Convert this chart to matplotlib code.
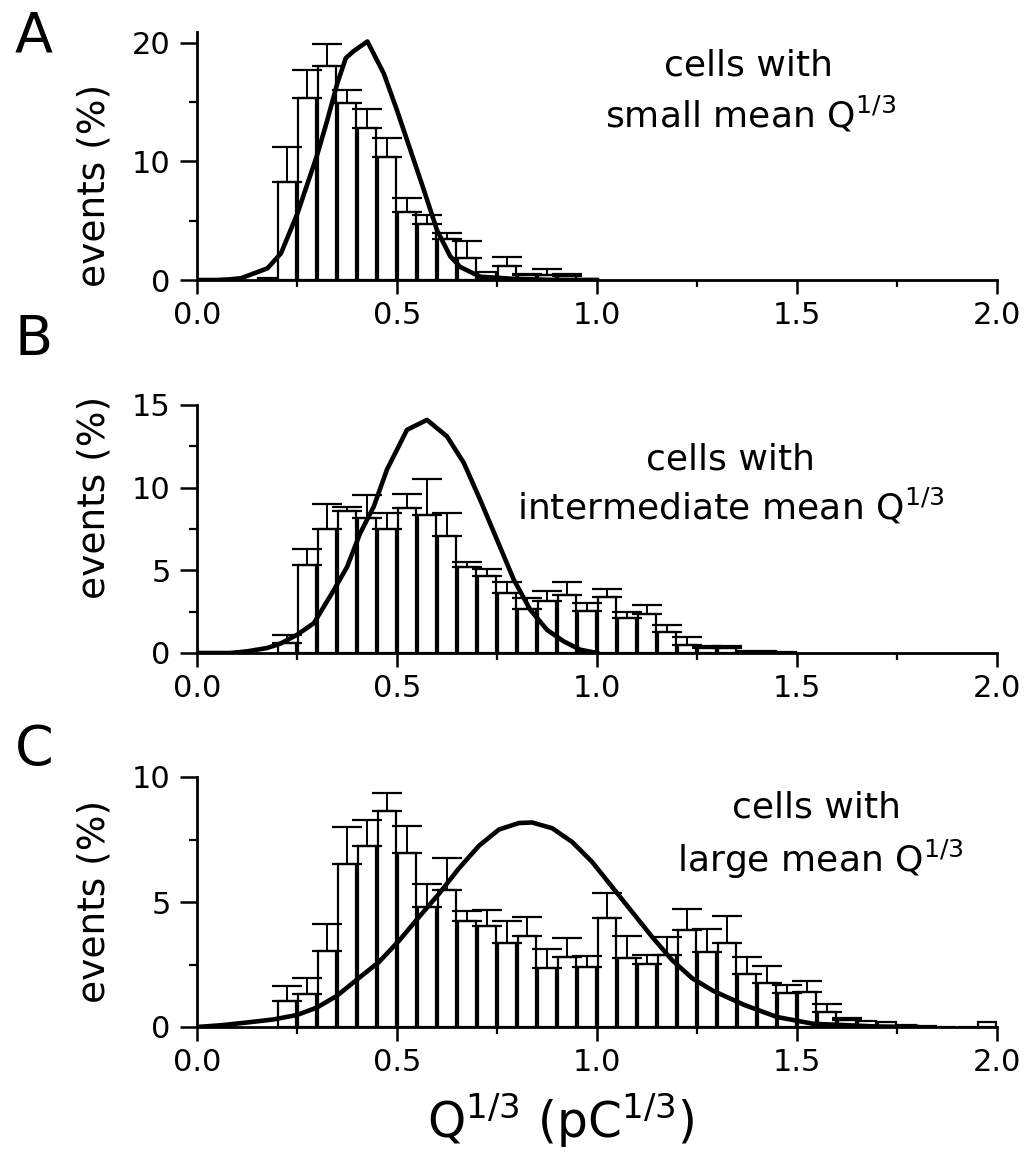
import numpy as np
import matplotlib
matplotlib.use("Agg")
import matplotlib.pyplot as plt
from matplotlib.ticker import MultipleLocator

# -----------------------------
# Data
# -----------------------------
BIN = 0.05

# panel A: cells with small mean Q^1/3
a_start = 0.15
a_height = [0.2, 8.3, 15.35, 18.0, 14.9, 12.8, 10.4, 5.7, 4.7, 3.45, 1.83,
            0.7, 1.2, 0.4, 0.4, 0.34, 0.1]
a_top = [0.2, 11.2, 17.7, 19.85, 16.05, 14.4, 12.0, 6.9, 5.5, 4.0, 3.3,
         0.7, 1.9, 0.5, 0.9, 0.5, 0.1]
a_curve_x = [0.0, 0.05, 0.08, 0.11, 0.176, 0.21, 0.251, 0.30, 0.326, 0.351,
             0.372, 0.392, 0.426, 0.467, 0.50, 0.525, 0.567, 0.60, 0.633,
             0.658, 0.708, 0.79, 0.9, 1.0]
a_curve_y = [0.0, 0.0, 0.05, 0.15, 0.98, 2.25, 5.6, 10.5, 13.5, 16.6,
             18.7, 19.3, 20.1, 17.4, 14.3, 11.8, 7.6, 4.2, 2.0,
             1.1, 0.28, 0.1, 0.0, 0.0]

# panel B: intermediate mean
b_start = 0.2
b_height = [0.6, 5.33, 7.5, 8.56, 8.15, 7.5, 8.76, 8.36, 7.05, 5.23, 4.67,
            3.62, 2.66, 3.12, 3.52, 2.55, 3.38, 2.1, 2.37, 1.3, 0.5, 0.3,
            0.3, 0.1, 0.1, 0.05]
b_top = [1.1, 6.3, 9.0, 8.86, 9.56, 8.46, 9.62, 10.5, 8.46, 5.5, 5.07,
         4.27, 3.3, 3.72, 4.29, 3.0, 3.88, 2.5, 2.88, 1.7, 0.97, 0.4,
         0.42, 0.1, 0.1, 0.05]
b_curve_x = [0.0, 0.083, 0.125, 0.175, 0.208, 0.25, 0.292, 0.342, 0.375,
             0.408, 0.442, 0.475, 0.525, 0.575, 0.625, 0.667, 0.708, 0.75,
             0.792, 0.833, 0.875, 0.917, 0.958, 1.0]
b_curve_y = [0.0, 0.0, 0.1, 0.3, 0.56, 1.1, 1.8, 3.8, 5.2, 7.25, 8.86,
             11.1, 13.5, 14.1, 13.1, 11.5, 9.26, 6.85, 4.43, 2.62, 1.4,
             0.7, 0.2, 0.0]

# panel C: large mean
c_start = 0.2
c_height = [1.04, 1.33, 3.04, 6.53, 7.24, 8.63, 6.97, 4.8, 5.5, 4.24, 4.03,
            3.38, 3.63, 2.35, 2.8, 2.4, 4.37, 2.77, 2.53, 2.88, 3.88, 3.0,
            3.37, 2.13, 1.76, 1.37, 1.4, 0.6, 0.27, 0.24, 0.2, 0.1, 0.05,
            0.0, 0.0, 0.2]
c_top = [1.63, 1.96, 4.13, 8.0, 8.27, 9.36, 8.03, 5.72, 6.77, 4.65, 4.67,
         4.24, 4.42, 3.12, 3.56, 2.85, 5.35, 3.63, 2.9, 3.62, 4.73, 3.93,
         4.43, 2.8, 2.44, 1.67, 1.84, 0.93, 0.37, 0.24, 0.2, 0.1, 0.05,
         0.0, 0.0, 0.2]
c_curve_x = [0.0, 0.06, 0.125, 0.19, 0.25, 0.3, 0.35, 0.4, 0.455, 0.505,
             0.555, 0.605, 0.655, 0.705, 0.755, 0.805, 0.838, 0.888, 0.938,
             0.988, 1.038, 1.088, 1.138, 1.188, 1.238, 1.29, 1.37, 1.45,
             1.54, 1.7, 1.8]
c_curve_y = [0.0, 0.07, 0.18, 0.3, 0.48, 0.78, 1.25, 1.9, 2.6, 3.45,
             4.4, 5.33, 6.35, 7.25, 7.9, 8.16, 8.18, 7.95, 7.4,
             6.6, 5.6, 4.6, 3.6, 2.67, 1.95, 1.45, 0.87, 0.4,
             0.13, 0.02, 0.0]

panel_letters = ["A", "B", "C"]
line1 = ["cells with", "cells with", "cells with"]
line2 = [r"small mean Q$^{1/3}$", r"intermediate mean Q$^{1/3}$",
         r"large mean Q$^{1/3}$"]
ylims = [20.9, 15, 10]
y_major = [10, 5, 5]
y_minor = [5, 2.5, 2.5]

# -----------------------------
# Layout (pixels of the 1026x1152 image)
# -----------------------------
W, H = 1026, 1152
plt.rcParams["font.family"] = "DejaVu Sans"
plt.rcParams["mathtext.fontset"] = "dejavusans"

fig = plt.figure(figsize=(W / 100, H / 100), dpi=100)


def fx(px):
    return px / W


def fy(py):
    return 1 - py / H


ax_left, ax_right = 197, 997
ax_boxes = [(32, 280), (405, 653), (777, 1027)]  # (top, bottom)
letter_base = [52, 355, 765]
ylabel_center = [185, 497, 901]
text1 = [(748, 75), (731, 470), (817, 818)]
text2 = [(605, 127), (517, 520), (677, 872)]

panels = [
    (a_start, a_height, a_top, a_curve_x, a_curve_y),
    (b_start, b_height, b_top, b_curve_x, b_curve_y),
    (c_start, c_height, c_top, c_curve_x, c_curve_y),
]

for i, (start, height, top, cx, cy) in enumerate(panels):
    t, b = ax_boxes[i]
    ax = fig.add_axes([fx(ax_left), fy(b), fx(ax_right - ax_left), (b - t) / H])

    height = np.array(height)
    top = np.array(top)
    centers = start + BIN / 2 + BIN * np.arange(len(height))

    ax.bar(centers, height, width=0.044, color="white", edgecolor="black",
           linewidth=1.6, zorder=2)
    m = top > height + 0.02
    ax.errorbar(centers[m], height[m], yerr=[np.zeros(m.sum()), (top - height)[m]],
                fmt="none", ecolor="black", elinewidth=1.4, capsize=11,
                capthick=1.6, zorder=2)
    ax.plot(cx, cy, color="black", linewidth=3.3, zorder=3,
            solid_joinstyle="round")

    ax.set_xlim(0, 2.0)
    ax.set_ylim(0, ylims[i])
    for s in ["top", "right"]:
        ax.spines[s].set_visible(False)
    for s in ["left", "bottom"]:
        ax.spines[s].set_linewidth(2.0)
        ax.spines[s].set_zorder(4)

    ax.xaxis.set_major_locator(MultipleLocator(0.5))
    ax.xaxis.set_minor_locator(MultipleLocator(0.25))
    ax.yaxis.set_major_locator(MultipleLocator(y_major[i]))
    ax.yaxis.set_minor_locator(MultipleLocator(y_minor[i]))
    ax.xaxis.set_major_formatter(plt.FormatStrFormatter("%.1f"))

    ax.tick_params(axis="x", which="major", length=10, width=1.8,
                   labelsize=22, pad=5, direction="out")
    ax.tick_params(axis="x", which="minor", length=5, width=1.6,
                   direction="out")
    ax.tick_params(axis="y", which="major", length=12, width=1.8,
                   labelsize=22, pad=7, direction="out")
    ax.tick_params(axis="y", which="minor", length=6, width=1.6,
                   direction="out")

    fig.text(fx(15), fy(letter_base[i]), panel_letters[i], fontsize=40,
             ha="left", va="baseline")
    fig.text(fx(95), fy(ylabel_center[i]), "events (%)", fontsize=27,
             rotation=90, ha="center", va="center")
    fig.text(fx(text1[i][0]), fy(text1[i][1]), line1[i], fontsize=26,
             ha="center", va="baseline")
    fig.text(fx(text2[i][0]), fy(text2[i][1]), line2[i], fontsize=26,
             ha="left", va="baseline")

fig.text(fx(427), fy(1138), r"Q$^{1/3}$ (pC$^{1/3}$)", fontsize=35,
         ha="left", va="baseline")

fig.savefig("out.png", dpi=100)
